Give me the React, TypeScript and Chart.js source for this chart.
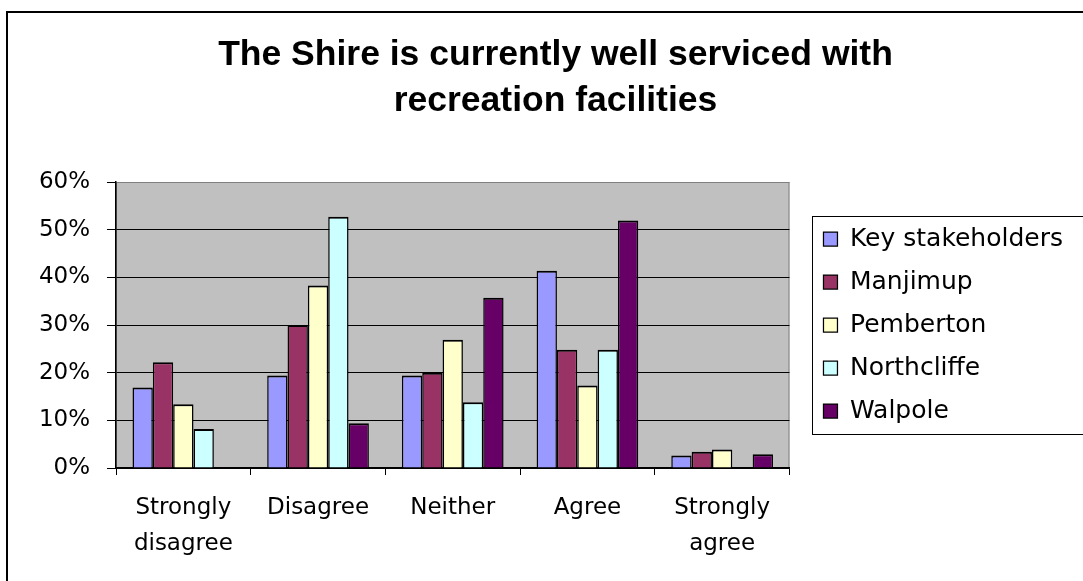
import React, { useEffect, useRef } from 'react';
import { Chart, registerables } from 'chart.js';

Chart.register(...registerables);

const categories = [['Strongly', 'disagree'], 'Disagree', 'Neither', 'Agree', ['Strongly', 'agree']];
const seriesNames = ['Key stakeholders', 'Manjimup', 'Pemberton', 'Northcliffe', 'Walpole'];
const keyStakeholders = [16.9, 19.4, 19.4, 41.4, 2.6];
const manjimup = [22.2, 30.0, 20.0, 24.8, 3.4];
const pemberton = [13.4, 38.3, 26.9, 17.3, 3.9];
const northcliffe = [8.2, 52.7, 13.8, 24.8, 0];
const walpole = [0, 9.4, 35.7, 51.9, 2.9];
const seriesColors = ['#9999FF', '#993366', '#FFFFCC', '#CCFFFF', '#660066'];
const titleLines = ['The Shire is currently well serviced with', 'recreation facilities'];
const yMin = 0;
const yMax = 60;
const yStep = 10;

export default function App() {
  const ref = useRef<HTMLCanvasElement>(null);

  useEffect(() => {
    if (!ref.current) return;
    const values = [keyStakeholders, manjimup, pemberton, northcliffe, walpole];

    const framePlugin = {
      id: 'frame',
      beforeDraw(chart: any) {
        const { ctx, chartArea } = chart;
        ctx.save();
        ctx.fillStyle = '#ffffff';
        ctx.fillRect(0, 0, chart.width, chart.height);
        ctx.strokeStyle = '#000000';
        ctx.lineWidth = 2;
        ctx.strokeRect(7, 12, chart.width + 40, chart.height + 40);
        ctx.fillStyle = '#C0C0C0';
        ctx.fillRect(chartArea.left, chartArea.top, chartArea.right - chartArea.left, chartArea.bottom - chartArea.top);
        ctx.strokeStyle = '#808080';
        ctx.lineWidth = 1;
        ctx.strokeRect(chartArea.left + 0.5, chartArea.top + 0.5, chartArea.right - chartArea.left - 1, chartArea.bottom - chartArea.top);
        ctx.restore();
      },
      afterDraw(chart: any) {
        const lg: any = chart.legend;
        const hb = lg && lg.legendHitBoxes;
        if (!hb || !hb.length) return;
        const first = hb[0];
        const last = hb[hb.length - 1];
        const l = Math.round(first.left - 11) + 0.5;
        const t = Math.round(first.top - 11) + 0.5;
        const b = Math.round(last.top + last.height + 10) + 0.5;
        const { ctx } = chart;
        ctx.save();
        ctx.strokeStyle = '#000000';
        ctx.lineWidth = 1;
        ctx.strokeRect(l, t, chart.width + 20 - l, b - t);
        ctx.restore();
      },
    };

    const chart = new Chart(ref.current, {
      type: 'bar',
      data: {
        labels: categories,
        datasets: seriesNames.map((name, i) => ({
          label: name,
          data: values[i],
          backgroundColor: seriesColors[i],
          borderColor: '#000000',
          borderWidth: { top: 2, left: 1.5, right: 1.5, bottom: 0 },
          categoryPercentage: 0.755,
          barPercentage: 1,
        })),
      },
      options: {
        responsive: false,
        animation: false,
        devicePixelRatio: 1,
        layout: { padding: { left: 38, right: 10, top: 0, bottom: 0 } },
        plugins: {
          title: {
            display: true,
            text: titleLines,
            color: '#000000',
            font: { family: '"Liberation Sans", Arial, sans-serif', weight: 'bold', size: 35.5, lineHeight: 46 / 35.5 },
            padding: { top: 32, bottom: 58 },
          },
          legend: {
            position: 'right',
            fullSize: false,
            align: 'center',
            maxWidth: 320,
            labels: {
              color: '#000000',
              font: { family: '"DejaVu Sans", sans-serif', size: 25 },
              boxWidth: 14,
              boxHeight: 14,
              padding: 18,
            },
          },
          tooltip: { enabled: false },
        },
        scales: {
          x: {
            grid: {
              display: true,
              drawOnChartArea: false,
              drawTicks: true,
              tickLength: 7,
              offset: true,
              color: '#000000',
              tickColor: '#000000',
            },
            border: { color: '#000000', width: 1.5 },
            ticks: {
              color: '#000000',
              font: { family: '"DejaVu Sans", sans-serif', size: 23, lineHeight: 1.565 },
              padding: 15,
              maxRotation: 0,
              autoSkip: false,
            },
            afterFit: (s: any) => { s.height = 113; },
          },
          y: {
            min: yMin,
            max: yMax,
            ticks: {
              stepSize: yStep,
              color: '#000000',
              padding: 17,
              font: { family: '"DejaVu Sans", sans-serif', size: 23 },
              callback: (v: any) => v + '%',
            },
            grid: {
              color: (c: any) => (c.tick && c.tick.value === yMax ? '#808080' : '#000000'),
              tickColor: '#000000',
              tickLength: 9,
              lineWidth: 1,
            },
            border: { color: '#000000', width: 1.5 },
            afterFit: (s: any) => { s.width = 78; },
          },
          gap: {
            type: 'linear',
            position: 'right',
            display: true,
            grid: { display: false },
            border: { display: false },
            ticks: { display: false },
            afterFit: (s: any) => { s.width = 16; },
          },
        },
      } as any,
      plugins: [framePlugin],
    });

    return () => chart.destroy();
  }, []);

  return (
    <div style={{ position: 'absolute', left: 0, top: 0, width: 1083, height: 581, overflow: 'hidden' }}>
      <canvas ref={ref} width={1083} height={581} style={{ display: 'block', width: 1083, height: 581 }} />
    </div>
  );
}
